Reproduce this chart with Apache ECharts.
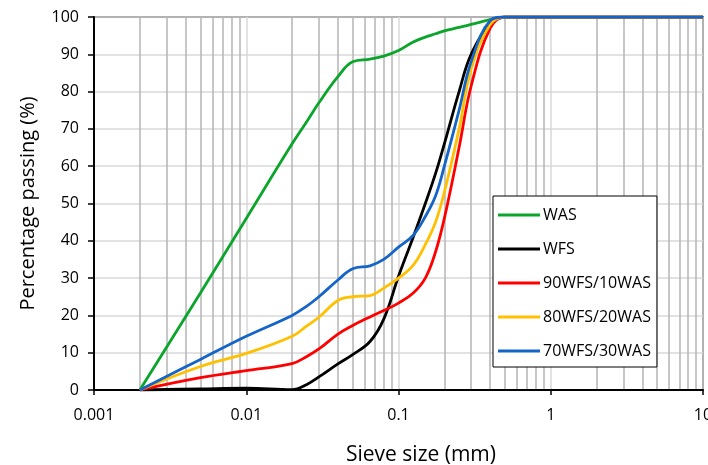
<!DOCTYPE html>
<html>
<head>
<meta charset="utf-8">
<script src="https://cdn.jsdelivr.net/npm/echarts@6/dist/echarts.min.js"></script>
<style>
  html, body { margin: 0; padding: 0; background: #fff; }
  #chart { width: 708px; height: 465px; }
</style>
</head>
<body>
<div id="chart"></div>
<script>
// sieve sizes (mm) and percentage passing
var sizes = [0.002, 0.005, 0.01, 0.02, 0.025, 0.03, 0.04, 0.05, 0.065, 0.08, 0.1, 0.125, 0.15, 0.175, 0.2, 0.25, 0.3, 0.4, 0.5, 1, 10];

var was   = [0, 26, 46, 66, 72, 77, 84, 88, 88.7, 89.5, 91, 93.3, 94.6, 95.5, 96.3, 97.2, 98, 99.3, 100, 100, 100];
var wfs   = [0, 0.3, 0.5, 0.1, 1.5, 3.5, 7, 9.5, 13, 19, 30.5, 41, 50, 58, 66, 80, 90, 98, 100, 100, 100];
var mix90 = [0, 3.3, 5.2, 7.1, 9, 11, 15, 17.3, 19.6, 21.3, 23.3, 26, 30, 37, 46, 65, 81.5, 97, 100, 100, 100];
var mix80 = [0, 6.3, 9.8, 14.4, 17.2, 19.5, 24, 25, 25.3, 27.3, 30, 33.5, 39, 45, 53, 70, 86, 98, 100, 100, 100];
var mix70 = [0, 8.2, 14.4, 20, 22.5, 25, 29.5, 32.5, 33.3, 35, 38.3, 41.5, 46.5, 52, 60, 75, 88, 99, 100, 100, 100];

var names  = ['WAS', 'WFS', '90WFS/10WAS', '80WFS/20WAS', '70WFS/30WAS'];
var values = [was, wfs, mix90, mix80, mix70];
var colors = ['#0aa52a', '#000000', '#ff0000', '#ffc000', '#1565c8'];

var font = 'Open Sans';

function pairs(vals) {
    return sizes.map(function (s, i) { return [s, vals[i]]; });
}

var series = names.map(function (n, i) {
    return {
        name: n,
        type: 'line',
        data: pairs(values[i]),
        smooth: 0.4,
        showSymbol: false,
        symbol: 'none',
        lineStyle: { color: colors[i], width: 2.8 },
        itemStyle: { color: colors[i] },
        z: 3 + i
    };
});

var option = {
    animation: false,
    textStyle: { fontFamily: font },
    grid: {
        left: 94, right: 5, top: 17, bottom: 75,
        outerBoundsMode: 'none',
        containLabel: false,
        show: true, borderColor: '#000', borderWidth: 1.5
    },
    legend: {
        orient: 'vertical',
        left: 493, top: 196,
        data: names,
        icon: 'rect',
        itemWidth: 42, itemHeight: 3,
        itemGap: 18,
        padding: [11, 6, 8, 5],
        backgroundColor: '#fff',
        borderColor: '#000', borderWidth: 1,
        textStyle: { fontFamily: font, fontSize: 16, color: '#000', padding: [0, 0, 0, -2] }
    },
    xAxis: {
        type: 'log',
        logBase: 10,
        min: 0.001, max: 10,
        name: 'Sieve size (mm)',
        nameLocation: 'middle',
        nameGap: 55,
        nameTextStyle: { fontSize: 21, color: '#000', padding: [0, 0, 0, 45] },
        axisLine: { onZero: false, lineStyle: { color: '#000', width: 2 } },
        axisTick: { show: true, length: 5, lineStyle: { color: '#000', width: 1.5 } },
        axisLabel: {
            fontSize: 16, color: '#000', margin: 17,
            formatter: function (v) { return String(v); }
        },
        splitLine: { show: true, lineStyle: { color: '#d9d9d9', width: 1.5 } },
        minorTick: { show: false, splitNumber: 9 },
        minorSplitLine: { show: true, lineStyle: { color: '#b5b5b5', width: 1.5 } }
    },
    yAxis: {
        type: 'value',
        min: 0, max: 100, interval: 10,
        name: 'Percentage passing (%)',
        nameLocation: 'middle',
        nameGap: 56,
        nameTextStyle: { fontSize: 20, color: '#000' },
        axisLine: { show: true, lineStyle: { color: '#000', width: 2 } },
        axisTick: { show: true, length: 6, lineStyle: { color: '#000', width: 1.5 } },
        axisLabel: { fontSize: 16, color: '#000', margin: 15 },
        splitLine: { show: true, lineStyle: { color: '#d9d9d9', width: 1.5 } }
    },
    series: series
};

echarts.init(document.getElementById('chart')).setOption(option);
</script>
</body>
</html>
